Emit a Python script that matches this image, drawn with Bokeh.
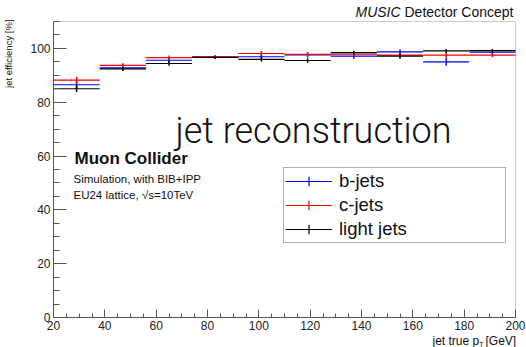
from bokeh.plotting import figure
from bokeh.models import (ColumnDataSource, FixedTicker, Label, Legend, LegendItem,
                          Range1d, BoxAnnotation)
from bokeh.embed import file_html
from bokeh.resources import INLINE

# ---- data ----
bin_edges = [20, 38, 56, 74, 92, 110, 128, 146, 164, 182, 200]
b_eff = [86.5, 92.8, 95.6, 96.8, 96.9, 97.6, 97.1, 98.7, 95.0, 98.6]
b_err = [1.3, 0.9, 0.9, 0.7, 1.0, 1.0, 0.9, 0.9, 1.4, 0.8]
c_eff = [88.2, 93.7, 96.6, 96.9, 98.1, 97.8, 97.9, 97.5, 97.5, 97.5]
c_err = [1.3, 0.8, 0.8, 0.6, 0.9, 0.9, 0.8, 0.9, 1.0, 0.8]
l_eff = [85.0, 92.4, 94.4, 96.7, 95.9, 95.5, 98.4, 97.1, 99.1, 99.2]
l_err = [1.2, 0.8, 0.8, 0.5, 0.8, 0.8, 0.7, 0.9, 0.7, 0.6]
series_names = ["b-jets", "c-jets", "light jets"]
series_colors = ["#0000ff", "#ff0000", "#000000"]
x_ticks = [20, 40, 60, 80, 100, 120, 140, 160, 180, 200]
y_ticks = [0, 20, 40, 60, 80, 100]

FONT = "Liberation Sans"
W, H = 526, 347
FL, FR, FT, FB = 53, 515, 21, 317          # visible plot box (pixels)
XMIN, XMAX, YMIN, YMAX = 20, 200, 0, 110   # axis ranges


def X(px):
    return XMIN + (px - FL) * (XMAX - XMIN) / (FR - FL)


def Y(py):
    return YMIN + (FB - py) * (YMAX - YMIN) / (FB - FT)


# the frame spans the whole canvas; the axes are pinned at the box edges
p = figure(width=W, height=H, output_backend="svg", toolbar_location=None,
           x_range=Range1d(X(0), X(W)), y_range=Range1d(Y(H), Y(0)),
           min_border=0, min_border_left=0, min_border_right=0,
           min_border_top=0, min_border_bottom=0)
p.xgrid.visible = False
p.ygrid.visible = False
p.background_fill_color = "white"
p.border_fill_color = "white"
p.outline_line_color = None

xa, ya = p.xaxis[0], p.yaxis[0]
xa.fixed_location = YMIN
ya.fixed_location = XMIN
xa.bounds = (XMIN, XMAX)
ya.bounds = (YMIN, YMAX)
xa.ticker = FixedTicker(ticks=x_ticks, minor_ticks=list(range(XMIN, XMAX + 1, 5)))
ya.ticker = FixedTicker(ticks=y_ticks, minor_ticks=list(range(YMIN, YMAX + 1, 5)))
for ax, majin, minin in ((xa, 8, 4), (ya, 13, 6)):
    ax.major_tick_in = majin
    ax.major_tick_out = 0
    ax.minor_tick_in = minin
    ax.minor_tick_out = 0
    ax.axis_line_color = "#555555"
    ax.major_tick_line_color = "#555555"
    ax.minor_tick_line_color = "#555555"
    ax.major_label_text_font = FONT
    ax.major_label_text_font_size = "12px"
    ax.major_label_text_color = "#222222"
    ax.major_label_standoff = 3

# plot box outline
p.add_layout(BoxAnnotation(left=XMIN, right=XMAX, bottom=YMIN, top=YMAX,
                           fill_alpha=0, line_color="#555555", line_width=1))

lefts = bin_edges[:-1]
rights = bin_edges[1:]
centers = [(a + b) / 2 for a, b in zip(lefts, rights)]

legend_items = []
for name, col, eff, err in zip(series_names, series_colors,
                                [b_eff, c_eff, l_eff], [b_err, c_err, l_err]):
    src = ColumnDataSource(dict(x0=lefts, x1=rights, xc=centers, y=eff,
                                ylo=[v - e for v, e in zip(eff, err)],
                                yhi=[v + e for v, e in zip(eff, err)]))
    hr = p.segment(x0="x0", y0="y", x1="x1", y1="y", source=src,
                   line_color=col, line_width=1.2)
    p.segment(x0="xc", y0="ylo", x1="xc", y1="yhi", source=src,
              line_color=col, line_width=1.5)
    # zero-size markers: invisible on the plot, give the error-bar tick in the legend
    mk = p.scatter(x="xc", y="y", source=src, marker="cross", size=0,
                   line_color=col, line_width=1.2)
    legend_items.append(LegendItem(label=name, renderers=[hr, mk]))

legend = Legend(items=legend_items, location=(283, H - 243),
                padding=1, spacing=0, margin=0,
                glyph_width=47, glyph_height=24, label_height=24,
                label_standoff=7, label_width=165,
                label_text_font=FONT, label_text_font_size="18.5px",
                label_text_color="#111111",
                border_line_color="#666666", border_line_width=1,
                background_fill_color="white", background_fill_alpha=1)
p.add_layout(legend)


def lab(text, px, py, size, style="normal", align="left", baseline="middle",
        angle=0.0, color="#111111", font=FONT):
    p.add_layout(Label(x=X(px), y=Y(py), text=text, text_font=font,
                       text_font_size=size, text_font_style=style,
                       text_align=align, text_baseline=baseline,
                       angle=angle, text_color=color))


# header
lab("MUSIC", 355, 11, "14px", style="italic")
lab("Detector Concept", 404, 11, "14px")
# big annotation
lab("jet reconstruction", 175, 130, "36px", baseline="alphabetic", font="Roboto Light")
# experiment labels
lab("Muon Collider", 74, 158, "17px", style="bold")
lab("Simulation, with BIB+IPP", 73, 178, "11.5px")
lab("EU24 lattice, \u221as=10TeV", 73, 194, "11.5px")
# axis titles
lab("jet efficiency [%]", 8, 19, "9.5px", align="right", angle=1.5707963)
lab("jet true p", 432, 340, "12px")
lab("T", 478.7, 344, "7px")
lab("[GeV]", 485, 340, "12px")

open("out.html", "w").write(file_html(p, INLINE))
